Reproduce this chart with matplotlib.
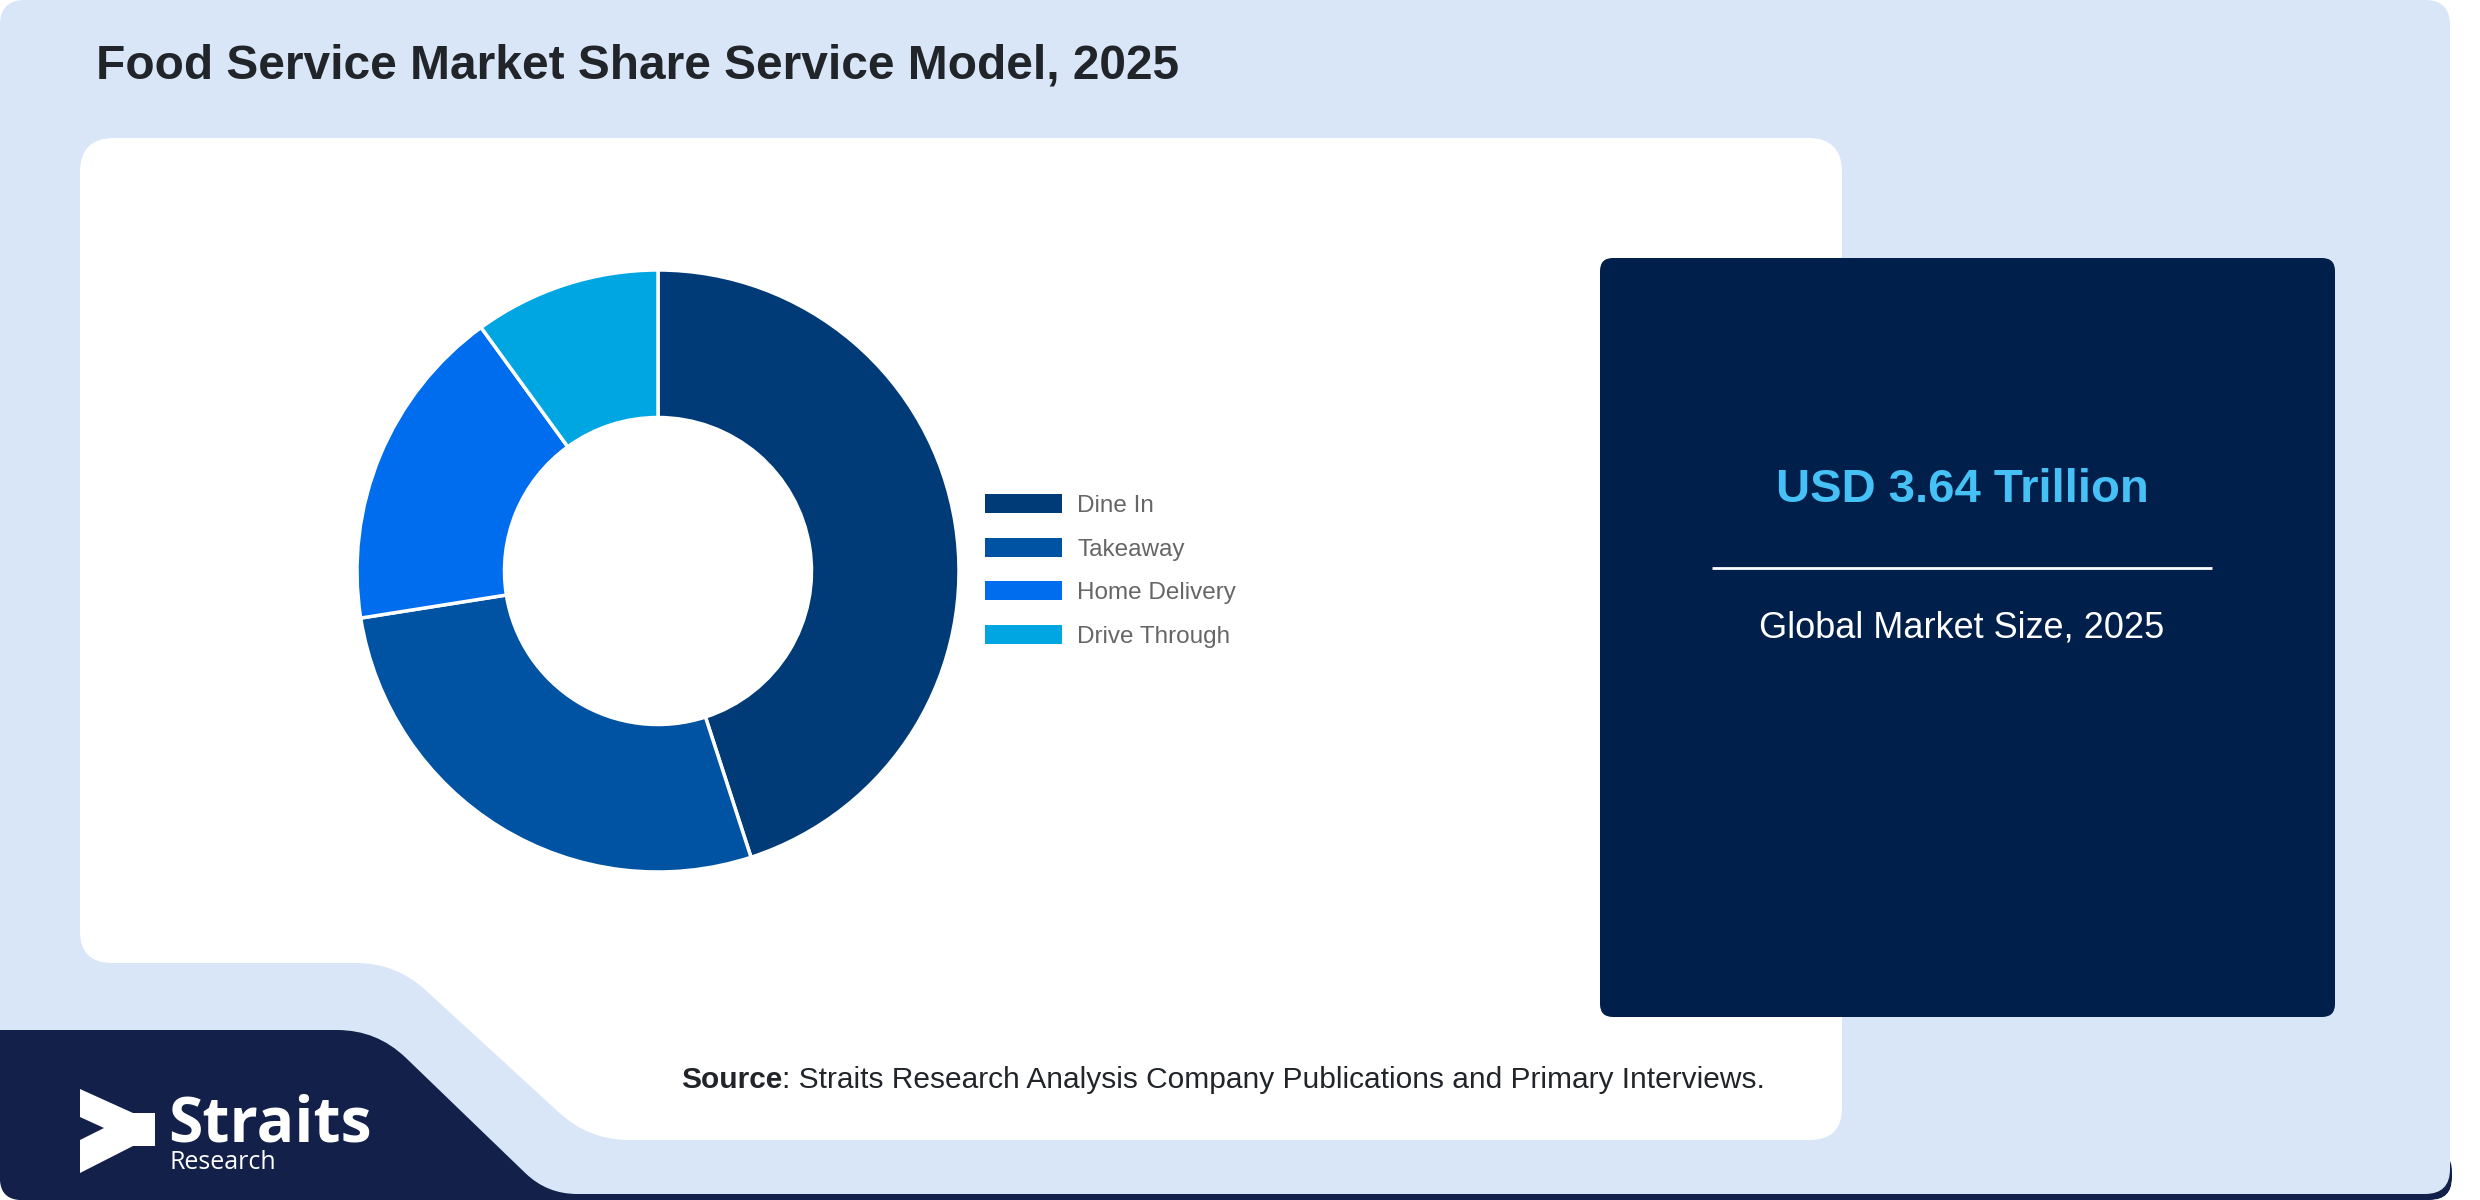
import numpy as np
import matplotlib
matplotlib.use("Agg")
import matplotlib.pyplot as plt
import matplotlib.patches as mpatches
from matplotlib.path import Path

plt.rcParams['font.family'] = ['Liberation Sans', 'DejaVu Sans']

# data
categories = ['Dine In', 'Takeaway', 'Home Delivery', 'Drive Through']
shares = [45.0, 27.5, 17.5, 10.0]
colors = ['#003b78', '#0052a3', '#006cee', '#00a6e2']
title = 'Food Service Market Share Service Model, 2025'
market_value = 'USD 3.64 Trillion'
market_label = 'Global Market Size, 2025'
source_head = 'Source'
source_text = ': Straits Research Analysis Company Publications and Primary Interviews.'

W, H = 2480, 1200
LIGHT = '#d9e6f8'
NAVY_LOGO = '#13204a'
NAVY_BOX = '#011f4b'


def rounded_path(pts, r):
    # polygon with quadratic-rounded corners, r can be a list per vertex
    n = len(pts)
    if np.isscalar(r):
        r = [r] * n
    verts, codes = [], []
    for i in range(n):
        p0 = np.array(pts[i - 1], float)
        p1 = np.array(pts[i], float)
        p2 = np.array(pts[(i + 1) % n], float)
        d1 = (p0 - p1) / np.linalg.norm(p0 - p1)
        d2 = (p2 - p1) / np.linalg.norm(p2 - p1)
        a = p1 + d1 * r[i]
        b = p1 + d2 * r[i]
        verts.append(a)
        codes.append(Path.MOVETO if i == 0 else Path.LINETO)
        verts += [p1, b]
        codes += [Path.CURVE3, Path.CURVE3]
    verts.append(verts[0])
    codes.append(Path.CLOSEPOLY)
    return Path(verts, codes)


fig = plt.figure(figsize=(W / 100, H / 100), dpi=100)
fig.patch.set_facecolor('white')
bg = fig.add_axes([0, 0, 1, 1])
bg.set_xlim(0, W)
bg.set_ylim(H, 0)
bg.axis('off')

clip = mpatches.PathPatch(rounded_path([(0, 0), (2452, 0), (2452, 1200), (0, 1200)], 22),
                          facecolor='none', edgecolor='none')
bg.add_patch(clip)

# thin navy strip under the card
strip = mpatches.PathPatch(rounded_path([(0, 1150), (2452, 1150), (2452, 1200), (0, 1200)], 22),
                           facecolor=NAVY_LOGO, edgecolor='none')
bg.add_patch(strip)
strip.set_clip_path(clip)

# light card
card = mpatches.PathPatch(rounded_path([(0, 0), (2450, 0), (2450, 1194), (0, 1194)], 25),
                          facecolor=LIGHT, edgecolor='none')
bg.add_patch(card)

# navy logo area
logo_bg = mpatches.PathPatch(rounded_path([(-60, 1030), (377, 1030), (547, 1194), (760, 1194),
                                           (760, 1260), (-60, 1260)], [0, 40, 30, 0, 0, 0]),
                             facecolor=NAVY_LOGO, edgecolor='none')
bg.add_patch(logo_bg)
logo_bg.set_clip_path(clip)

# white panel with notch
panel = mpatches.PathPatch(rounded_path([(80, 138), (1842, 138), (1842, 1140), (589, 1140),
                                         (396, 963), (80, 963)], [34, 34, 32, 40, 40, 32]),
                           facecolor='white', edgecolor='none')
bg.add_patch(panel)

# dark box
box = mpatches.PathPatch(rounded_path([(1600, 258), (2335, 258), (2335, 1017), (1600, 1017)], 13),
                         facecolor=NAVY_BOX, edgecolor='none')
bg.add_patch(box)

bg.text(96, 78, title, fontsize=34.5, fontweight='bold', color='#212529', va='baseline', ha='left')

bg.text(1962, 502, market_value, fontsize=34, fontweight='bold', color='#45c1f5',
        ha='center', va='baseline')
bg.plot([1712, 2212], [568, 568], color='white', lw=2, solid_capstyle='butt')
bg.text(1962, 638, market_label, fontsize=26, color='white', ha='center', va='baseline')

bg.text(782, 1088, source_head, fontsize=21.5, fontweight='bold', color='#212529',
        ha='right', va='baseline')
bg.text(782, 1088, source_text, fontsize=21.5, color='#212529', ha='left', va='baseline')

# logo
icon = [(80, 1089), (133, 1113), (155, 1113), (155, 1146), (133, 1146), (80, 1173),
        (80, 1140), (104, 1128), (80, 1117)]
bg.add_patch(mpatches.Polygon(icon, closed=True, facecolor='white', edgecolor='none'))
bg.text(168, 1141, 'Straits', fontsize=45, fontweight='bold', color='white',
        family=['Open Sans', 'DejaVu Sans'], va='baseline', ha='left')
bg.text(170, 1169, 'Research', fontsize=18, color='white',
        family=['Open Sans', 'DejaVu Sans'], va='baseline', ha='left')

# donut
cx, cy, r = 658, 571, 301
pad = 1.05
ax = fig.add_axes([(cx - r * pad) / W, (H - cy - r * pad) / H, 2 * r * pad / W, 2 * r * pad / H])
ax.pie(shares, colors=colors, startangle=90, counterclock=False,
       wedgeprops=dict(width=0.49, edgecolor='white', linewidth=2.5))
ax.set_xlim(-pad, pad)
ax.set_ylim(-pad, pad)
ax.set_aspect('equal')

handles = [mpatches.Patch(facecolor=c, edgecolor='none') for c in colors]
fs = 17.5
ax.legend(handles, categories, loc='center left', bbox_to_anchor=(985, 571),
          bbox_transform=bg.transData, frameon=False, fontsize=fs,
          handlelength=3.17, handleheight=0.82, handletextpad=0.62,
          labelspacing=0.85, borderpad=0, borderaxespad=0, labelcolor='#666666')

fig.savefig('out.png', dpi=100, facecolor='white')
